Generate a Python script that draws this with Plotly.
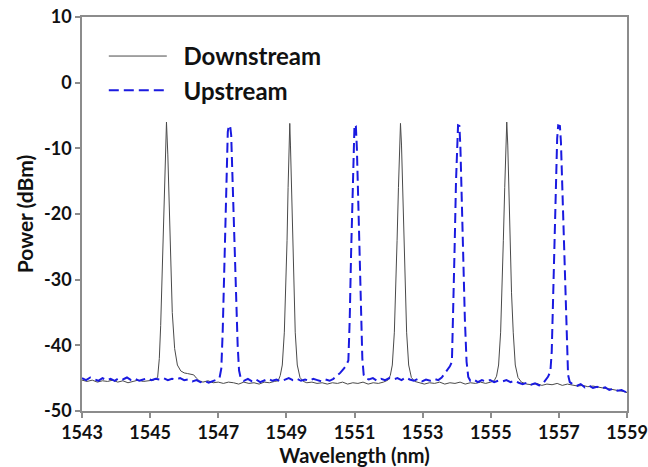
import plotly.graph_objects as go

# Downstream spectrum (wavelength nm, power dBm)
ds_wl = [1543.00,1543.15,1543.30,1543.45,1543.60,1543.75,1543.90,1544.05,1544.20,1544.35,1544.50,1544.65,1544.80,1544.95,1545.10,
         1545.22,1545.27,1545.31,1545.36,1545.40,1545.44,1545.48,1545.52,1545.56,1545.60,1545.65,1545.72,1545.80,1545.90,1546.00,1546.10,1546.20,1546.28,1546.36,1546.44,
         1546.55,1546.70,1546.85,1547.00,1547.15,1547.30,1547.45,1547.60,1547.75,1547.90,1548.05,1548.20,1548.35,1548.50,1548.65,1548.76,
         1548.82,1548.88,1548.94,1548.98,1549.02,1549.05,1549.08,1549.10,1549.12,1549.15,1549.18,1549.22,1549.26,1549.32,1549.40,1549.50,
         1549.60,1549.75,1549.90,1550.05,1550.20,1550.35,1550.50,1550.65,1550.80,1550.95,1551.10,1551.25,1551.40,1551.55,1551.70,1551.85,1551.98,
         1552.05,1552.11,1552.17,1552.21,1552.25,1552.29,1552.32,1552.35,1552.38,1552.41,1552.45,1552.49,1552.53,1552.59,1552.67,1552.77,
         1552.90,1553.05,1553.20,1553.35,1553.50,1553.65,1553.80,1553.95,1554.10,1554.25,1554.40,1554.55,1554.70,1554.85,1555.00,1555.10,
         1555.17,1555.23,1555.29,1555.33,1555.37,1555.41,1555.44,1555.47,1555.50,1555.53,1555.57,1555.61,1555.66,1555.72,1555.80,1555.90,
         1556.05,1556.20,1556.35,1556.50,1556.65,1556.80,1556.95,1557.10,1557.25,1557.40,1557.55,1557.70,1557.85,1558.00,1558.15,1558.30,1558.45,1558.60,1558.75,1558.90,1559.00]
ds_db = [-45.3,-45.5,-45.3,-45.6,-45.4,-45.5,-45.3,-45.6,-45.4,-45.7,-45.5,-45.3,-45.5,-45.4,-45.3,
         -44.9,-42.0,-37.0,-27.0,-18.0,-11.0,-6.0,-11.0,-18.0,-27.0,-35.0,-40.5,-43.0,-43.9,-44.2,-44.3,-44.4,-44.5,-45.0,-45.4,
         -45.6,-45.4,-45.7,-45.6,-45.8,-45.6,-45.7,-45.9,-45.6,-45.8,-45.7,-45.9,-45.6,-45.7,-45.5,-45.4,
         -44.6,-43.0,-38.0,-32.0,-24.0,-16.0,-9.5,-6.2,-9.5,-16.0,-24.0,-32.0,-38.0,-43.0,-44.9,-45.5,
         -45.7,-45.6,-45.8,-45.7,-45.9,-45.7,-45.8,-45.6,-45.9,-45.7,-45.8,-45.6,-45.9,-45.7,-45.8,-45.6,-45.3,
         -44.6,-43.0,-38.0,-32.0,-24.0,-16.0,-9.5,-6.2,-9.5,-16.0,-24.0,-32.0,-38.0,-43.0,-44.9,-45.5,
         -45.7,-45.9,-45.7,-45.8,-45.6,-45.9,-45.7,-45.8,-45.6,-45.9,-45.7,-45.8,-45.6,-45.8,-45.6,-45.4,
         -44.7,-43.0,-38.0,-32.0,-24.0,-16.0,-9.5,-6.0,-9.5,-16.0,-24.0,-32.0,-38.0,-43.0,-44.9,-45.6,
         -45.9,-46.0,-45.8,-46.1,-45.9,-46.0,-45.8,-46.1,-45.9,-46.0,-46.2,-46.1,-46.3,-46.2,-46.4,-46.5,-46.6,-46.8,-46.9,-47.0,-47.2]

# Upstream spectrum (wavelength nm, power dBm)
us_wl = [1543.00,1543.12,1543.24,1543.36,1543.48,1543.60,1543.72,1543.84,1543.96,1544.08,1544.20,1544.32,1544.44,1544.56,1544.68,1544.80,1544.92,
         1545.04,1545.16,1545.28,1545.40,1545.52,1545.64,1545.76,1545.88,1546.00,1546.12,1546.24,1546.36,1546.48,1546.60,1546.72,1546.84,1546.96,1547.04,
         1547.09,1547.13,1547.17,1547.21,1547.25,1547.28,1547.31,1547.35,1547.38,1547.42,1547.47,1547.52,1547.57,1547.61,1547.66,
         1547.75,1547.87,1547.99,1548.11,1548.23,1548.35,1548.47,1548.59,1548.71,1548.83,1548.95,1549.07,1549.19,1549.31,1549.43,1549.55,1549.67,1549.79,1549.91,1550.03,1550.15,1550.27,1550.38,
         1550.48,1550.58,1550.68,1550.76,1550.82,1550.86,1550.90,1550.94,1550.97,1551.00,1551.04,1551.07,1551.11,1551.15,1551.19,1551.23,1551.27,1551.32,
         1551.42,1551.54,1551.66,1551.78,1551.90,1552.02,1552.14,1552.26,1552.38,1552.50,1552.62,1552.74,1552.86,1552.98,1553.10,1553.22,1553.34,1553.46,1553.56,
         1553.64,1553.72,1553.80,1553.86,1553.90,1553.94,1553.98,1554.01,1554.04,1554.08,1554.11,1554.15,1554.19,1554.24,1554.29,1554.34,1554.40,
         1554.50,1554.62,1554.74,1554.86,1554.98,1555.10,1555.22,1555.34,1555.46,1555.58,1555.70,1555.82,1555.94,1556.06,1556.18,1556.30,1556.42,1556.52,
         1556.60,1556.68,1556.75,1556.79,1556.83,1556.87,1556.91,1556.95,1556.98,1557.03,1557.06,1557.10,1557.14,1557.19,1557.23,1557.27,1557.32,
         1557.40,1557.52,1557.64,1557.76,1557.88,1558.00,1558.12,1558.24,1558.36,1558.48,1558.60,1558.72,1558.84,1558.96,1559.00]
us_db = [-45.0,-45.3,-44.9,-45.2,-45.4,-45.0,-45.3,-45.1,-45.4,-45.0,-45.2,-44.9,-45.3,-45.1,-45.4,-45.2,-45.0,
         -45.3,-45.1,-45.2,-45.0,-45.3,-45.1,-45.2,-45.0,-45.3,-45.2,-45.5,-45.3,-45.6,-45.4,-45.7,-45.5,-45.2,-44.9,
         -43.5,-38.0,-30.0,-21.0,-13.0,-7.5,-6.5,-6.6,-8.0,-15.0,-24.0,-33.0,-40.0,-43.8,-45.0,
         -45.4,-45.1,-45.5,-45.2,-45.6,-45.3,-45.1,-45.4,-45.2,-45.5,-45.2,-45.0,-45.3,-45.1,-45.4,-45.2,-45.4,-45.1,-45.3,-45.5,-45.2,-45.4,-45.1,
         -44.7,-44.2,-43.6,-43.0,-42.3,-36.0,-26.0,-16.0,-9.0,-6.4,-6.6,-10.0,-18.0,-27.0,-35.0,-42.0,-44.5,-45.0,
         -45.2,-45.0,-45.4,-45.1,-45.3,-45.0,-45.2,-45.0,-45.3,-44.9,-45.2,-45.4,-45.1,-45.5,-45.2,-45.4,-45.1,-45.3,-44.9,
         -44.3,-43.7,-43.2,-42.5,-35.0,-25.0,-15.0,-8.5,-6.5,-6.6,-10.0,-18.0,-27.0,-36.0,-42.5,-44.8,-45.4,
         -45.2,-45.6,-45.3,-45.5,-45.3,-45.6,-45.4,-45.5,-45.3,-45.6,-45.4,-45.7,-45.9,-45.7,-46.0,-45.8,-46.1,-45.9,
         -45.4,-44.8,-44.0,-41.0,-33.0,-24.0,-15.0,-8.5,-6.5,-6.6,-9.0,-16.0,-25.0,-34.0,-41.0,-44.5,-45.6,
         -45.9,-46.2,-45.9,-46.4,-46.1,-46.5,-46.3,-46.6,-46.4,-46.8,-46.6,-46.9,-46.8,-47.1,-47.3]

x_ticks = [1543, 1545, 1547, 1549, 1551, 1553, 1555, 1557, 1559]
y_ticks = [10, 0, -10, -20, -30, -40, -50]

FONT = "Lato"
NB = "\u00a0"

fig = go.Figure()
fig.add_trace(go.Scatter(x=ds_wl, y=ds_db, mode="lines", name=NB * 2 + "Downstream",
                         line=dict(color="#4a4a4a", width=1)))
fig.add_trace(go.Scatter(x=us_wl, y=us_db, mode="lines", name=NB * 2 + "Upstream",
                         line=dict(color="#1a1ae0", width=2, dash="10px,5px")))

axis_common = dict(showgrid=False, zeroline=False, showline=True, linecolor="#8c8c8c",
                   linewidth=1.5, mirror=True, ticks="outside", ticklen=5, tickwidth=1.5,
                   tickcolor="#8c8c8c", automargin=False, ticklabeloverflow="allow",
                   tickfont=dict(family=FONT, size=18, color="#111", weight="bold"))

fig.update_xaxes(range=[1543, 1559], tickvals=x_ticks, ticktext=[str(v) for v in x_ticks],
                 title=dict(text="Wavelength (nm)", standoff=3,
                            font=dict(family=FONT, size=20, color="#111", weight="bold")),
                 **axis_common)
fig.update_yaxes(range=[-50, 10], tickvals=y_ticks, ticktext=[str(v) for v in y_ticks],
                 title=dict(text="Power (dBm)", standoff=5,
                            font=dict(family=FONT, size=21, color="#111", weight="bold")),
                 **axis_common)

fig.update_layout(
    width=648, height=467,
    margin=dict(l=82, r=21, t=17, b=56),
    paper_bgcolor="white", plot_bgcolor="white",
    showlegend=True,
    legend=dict(x=0.04, y=0.957, xanchor="left", yanchor="top",
                bgcolor="rgba(0,0,0,0)", itemwidth=58,
                font=dict(family=FONT, size=24, color="#111", weight="bold")),
)

fig.write_html("out.html")
